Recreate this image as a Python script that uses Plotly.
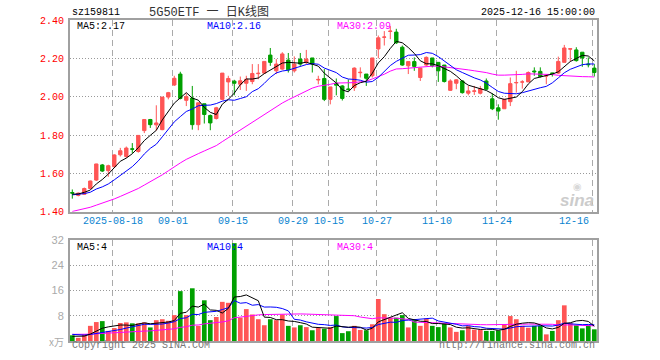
import numpy as np
import pandas as pd
import plotly.graph_objects as go

# ---------------- data ----------------
dates = ["08-07", "08-08",
         "08-11", "08-12", "08-13", "08-14", "08-15",
         "08-18", "08-19", "08-20", "08-21", "08-22",
         "08-25", "08-26", "08-27", "08-28", "08-29",
         "09-01", "09-02", "09-03", "09-04", "09-05",
         "09-08", "09-09", "09-10", "09-11", "09-12",
         "09-15", "09-16", "09-17", "09-18", "09-19",
         "09-22", "09-23", "09-24", "09-25", "09-26",
         "09-29", "09-30", "10-09", "10-10",
         "10-13", "10-14", "10-15", "10-16", "10-17",
         "10-20", "10-21", "10-22", "10-23", "10-24",
         "10-27", "10-28", "10-29", "10-30", "10-31",
         "11-03", "11-04", "11-05", "11-06", "11-07",
         "11-10", "11-11", "11-12", "11-13", "11-14",
         "11-17", "11-18", "11-19", "11-20", "11-21",
         "11-24", "11-25", "11-26", "11-27", "11-28",
         "12-01", "12-02", "12-03", "12-04", "12-05",
         "12-08", "12-09", "12-10", "12-11", "12-12",
         "12-15", "12-16"]

opens = [1.500, 1.485, 1.491, 1.521, 1.565, 1.644, 1.614, 1.635, 1.697, 1.688,
         1.728, 1.714, 1.823, 1.881, 1.853, 1.828, 1.998, 2.061, 2.118, 1.981,
         1.993, 1.854, 1.963, 1.902, 1.886, 1.986, 2.077, 2.081, 2.065, 2.070,
         2.079, 2.120, 2.123, 2.217, 2.135, 2.144, 2.191, 2.135, 2.196, 2.179,
         2.202, 2.087, 2.095, 1.986, 2.070, 2.056, 2.040, 2.047, 2.125, 2.118,
         2.109, 2.249, 2.310, 2.340, 2.337, 2.258, 2.161, 2.183, 2.100, 2.165,
         2.202, 2.179, 2.165, 2.033, 2.070, 2.082, 2.018, 2.028, 2.018, 2.082,
         1.989, 1.942, 1.937, 1.974, 2.072, 2.076, 2.077, 2.134, 2.132, 2.108,
         2.124, 2.123, 2.179, 2.248, 2.244, 2.232, 2.170, 2.149]
highs = [1.516, 1.500, 1.526, 1.562, 1.650, 1.649, 1.645, 1.700, 1.733, 1.740,
         1.758, 1.800, 1.881, 1.884, 1.955, 1.998, 2.025, 2.109, 2.130, 2.017,
         2.056, 1.968, 1.963, 1.907, 1.947, 2.123, 2.109, 2.088, 2.105, 2.109,
         2.170, 2.170, 2.184, 2.254, 2.196, 2.232, 2.228, 2.210, 2.228, 2.244,
         2.202, 2.109, 2.144, 2.051, 2.095, 2.060, 2.090, 2.153, 2.153, 2.118,
         2.202, 2.319, 2.342, 2.368, 2.354, 2.267, 2.183, 2.205, 2.149, 2.210,
         2.202, 2.179, 2.165, 2.091, 2.091, 2.086, 2.056, 2.056, 2.056, 2.095,
         2.018, 1.960, 1.989, 2.100, 2.135, 2.086, 2.132, 2.153, 2.153, 2.118,
         2.125, 2.209, 2.270, 2.253, 2.258, 2.232, 2.205, 2.170]
lows = [1.468, 1.480, 1.487, 1.520, 1.560, 1.607, 1.582, 1.630, 1.688, 1.680,
        1.705, 1.708, 1.810, 1.837, 1.823, 1.825, 1.986, 2.056, 1.986, 1.951,
        1.828, 1.825, 1.860, 1.825, 1.881, 1.982, 2.004, 2.007, 2.035, 2.030,
        2.065, 2.091, 2.118, 2.161, 2.118, 2.140, 2.126, 2.126, 2.161, 2.170,
        2.126, 2.065, 1.977, 1.960, 2.007, 1.980, 2.030, 2.030, 2.100, 2.056,
        2.100, 2.200, 2.267, 2.300, 2.275, 2.161, 2.118, 2.135, 2.082, 2.161,
        2.153, 2.077, 2.074, 2.030, 2.039, 2.016, 2.007, 2.009, 2.012, 2.035,
        1.930, 1.880, 1.937, 1.951, 2.021, 2.042, 2.077, 2.109, 2.100, 2.065,
        2.105, 2.118, 2.179, 2.183, 2.183, 2.156, 2.153, 2.105]
closes = [1.497, 1.497, 1.521, 1.560, 1.649, 1.612, 1.640, 1.696, 1.718, 1.732,
          1.726, 1.798, 1.881, 1.854, 1.863, 1.998, 2.021, 2.096, 1.991, 2.000,
          1.854, 1.968, 1.907, 1.863, 1.942, 2.123, 2.095, 2.070, 2.083, 2.091,
          2.121, 2.122, 2.184, 2.179, 2.170, 2.223, 2.140, 2.170, 2.170, 2.196,
          2.170, 2.090, 1.986, 2.051, 2.060, 1.991, 2.038, 2.149, 2.127, 2.096,
          2.202, 2.307, 2.311, 2.342, 2.281, 2.165, 2.183, 2.158, 2.149, 2.205,
          2.161, 2.135, 2.079, 2.082, 2.088, 2.021, 2.030, 2.030, 2.042, 2.039,
          1.937, 1.925, 1.986, 2.068, 2.074, 2.077, 2.126, 2.130, 2.105, 2.109,
          2.120, 2.184, 2.254, 2.250, 2.188, 2.202, 2.167, 2.126]
volumes = [1.8, 1.0, 2.1, 4.8, 6.0, 6.3, 3.2, 4.1, 5.7, 5.9,
           5.6, 5.6, 5.9, 4.3, 6.6, 6.9, 6.4, 8.2, 15.8, 8.2,
           16.7, 4.8, 12.9, 6.6, 7.6, 12.4, 12.1, 31.0, 7.4, 10.1,
           8.4, 6.9, 5.0, 6.9, 6.6, 8.4, 4.8, 4.3, 5.0, 4.4,
           3.4, 4.1, 3.9, 4.4, 7.9, 2.5, 3.1, 4.8, 3.5, 3.4,
           5.3, 13.3, 8.5, 7.4, 7.4, 8.2, 4.3, 6.6, 4.8, 7.1,
           4.8, 4.4, 5.5, 4.3, 2.9, 3.4, 4.8, 3.6, 3.6, 3.2,
           3.2, 3.3, 5.3, 7.9, 6.9, 4.8, 4.2, 4.8, 4.8, 2.1,
           3.2, 6.6, 11.3, 5.7, 5.0, 4.0, 5.0, 3.7]

# estimated history before the first visible bar (needed for the moving averages)
pre_closes = [1.30, 1.31, 1.31, 1.32, 1.32, 1.33, 1.32, 1.33, 1.34, 1.33,
              1.34, 1.35, 1.36, 1.37, 1.38, 1.40, 1.42, 1.43, 1.44, 1.46,
              1.47, 1.48, 1.49, 1.48, 1.50, 1.49, 1.48, 1.50, 1.49]
pre_volumes = [2.0, 2.2, 2.1, 1.9, 2.3, 2.0, 2.2, 2.1, 2.0, 2.2,
               2.1, 2.0, 2.3, 2.1, 1.9, 2.2, 2.0, 2.1, 2.2, 2.1,
               2.6, 2.8, 2.7, 2.9, 2.5, 1.5, 1.4, 1.5, 1.3]

tick_labels = ["2025-08-18", "09-01", "09-15", "09-29", "10-15",
               "10-27", "11-10", "11-24", "12-16"]
tick_dates = ["08-18", "09-01", "09-15", "09-29", "10-15",
              "10-27", "11-10", "11-24", "12-16"]
price_ticks = [1.40, 1.60, 1.80, 2.00, 2.20, 2.40]
vol_ticks = [8, 16, 24, 32]

# ---------------- derived ----------------
n = len(dates)
x = np.arange(n)
c_all = pd.Series(pre_closes + closes)
v_all = pd.Series(pre_volumes + volumes)
npre = len(pre_closes)
ma = {p: c_all.rolling(p).mean().iloc[npre:].values for p in (5, 10, 30)}
vma = {p: v_all.rolling(p).mean().iloc[npre:].values for p in (5, 10, 30)}

RED = "#ff5555"
GREEN = "#00a000"
ma_colors = {5: "#000000", 10: "#0000ff", 30: "#ff00ff"}

L, R, T, B = 70, 597, 20, 341
def px(v):
    return (v - L) / (R - L)
def py(v):
    return (B - v) / (B - T)

fig = go.Figure()
fig.add_trace(go.Candlestick(
    x=x, open=opens, high=highs, low=lows, close=closes,
    increasing=dict(line=dict(color=RED, width=1), fillcolor=RED),
    decreasing=dict(line=dict(color=GREEN, width=1), fillcolor=GREEN),
    whiskerwidth=0, xaxis="x", yaxis="y", showlegend=False, hoverinfo="skip"))
for p in (30, 10, 5):
    fig.add_trace(go.Scatter(x=x, y=ma[p], mode="lines",
                             line=dict(color=ma_colors[p], width=1),
                             xaxis="x", yaxis="y", showlegend=False, hoverinfo="skip"))

bar_colors = [RED if c >= o else GREEN for o, c in zip(opens, closes)]
fig.add_trace(go.Bar(x=x, y=volumes, marker=dict(color=bar_colors, line=dict(width=0)),
                     width=0.78, xaxis="x2", yaxis="y2", showlegend=False, hoverinfo="skip"))
for p in (30, 10, 5):
    fig.add_trace(go.Scatter(x=x, y=vma[p], mode="lines",
                             line=dict(color=ma_colors[p], width=1),
                             xaxis="x2", yaxis="y2", showlegend=False, hoverinfo="skip"))

tickpos = [dates.index(d) - 0.3 for d in tick_dates]
xr = [-0.383, n - 1 + 0.45]
mono = "Liberation Mono, DejaVu Sans Mono, monospace"
common_x = dict(range=xr, showgrid=True, gridcolor="#aaaaaa", griddash="6px,4px", gridwidth=1,
                zeroline=False, showline=True, mirror=True, linecolor="#a0a0a0", linewidth=2,
                tickvals=tickpos, showticklabels=False, fixedrange=True)
common_y = dict(showgrid=True, gridcolor="#999999", griddash="1px,2px", gridwidth=1,
                zeroline=False, showline=True, mirror=True, linecolor="#a0a0a0", linewidth=2,
                fixedrange=True)

fig.update_layout(
    width=660, height=360,
    margin=dict(l=L, r=660 - R, t=T, b=360 - B),
    paper_bgcolor="white", plot_bgcolor="white",
    boxgap=0.2,
    bargap=0.2,
    xaxis=dict(common_x, anchor="y", rangeslider=dict(visible=False)),
    yaxis=dict(common_y, domain=[py(211.7), 1], range=[1.40, 2.40],
               tickvals=price_ticks, ticktext=[f"{v:.2f}" for v in price_ticks],
               ticks="outside", ticklen=2, tickcolor="rgba(0,0,0,0)",
               tickfont=dict(family=mono, size=10, color="#ff0000")),
    xaxis2=dict(common_x, anchor="y2", matches="x"),
    yaxis2=dict(common_y, domain=[0, py(240)], range=[0, 32],
                tickvals=vol_ticks, ticktext=[str(v) for v in vol_ticks],
                ticks="outside", ticklen=2, tickcolor="rgba(0,0,0,0)",
                tickfont=dict(family="Liberation Sans, Arial, sans-serif", size=11, color="#aaaaaa")),
)

# date labels under the price panel (last one kept inside the plot's right edge)
for i, (lab, pos) in enumerate(zip(tick_labels, tickpos)):
    last = i == len(tick_labels) - 1
    fig.add_annotation(text=lab, x=(xr[1] - 1.0) if last else pos, xref="x",
                       y=py(221.7), yref="paper",
                       xanchor="right" if last else "center", yanchor="middle",
                       showarrow=False,
                       font=dict(family=mono, size=10, color="#0a84d0"))

def note(text, xp, yp, anchor="left", color="#000", size=10, family=mono, **kw):
    fig.add_annotation(text=text, x=px(xp), y=py(yp), xref="paper", yref="paper",
                       xanchor=anchor, yanchor="middle", showarrow=False,
                       font=dict(family=family, size=size, color=color), **kw)

note("sz159811", 70, 12)
note("5G50ETF 一 日K线图", 209, 12, anchor="center", color="#333333", size=12,
     family="Liberation Mono, Noto Sans CJK SC, monospace")
note("2025-12-16 15:00:00", 597, 12, anchor="right")
note("MA5:2.17", 75, 26)
note("MA10:2.16", 205, 26, color="#0000ff")
note("MA30:2.09", 335, 26, color="#ff00ff")
note("MA5:4", 75, 247)
note("MA10:4", 205, 247, color="#0000ff")
note("MA30:4", 335, 247, color="#ff00ff")
note("Copyright 2025 SINA.COM", 70, 346, color="#777777")
note("http://finance.sina.com.cn", 597, 346, anchor="right", color="#777777")
note("x万", 66, 341, anchor="right", color="#aaaaaa", size=10,
     family="Noto Sans CJK SC, sans-serif")
fig.add_annotation(text="sina", x=px(596), y=py(200), xref="paper", yref="paper",
                   xanchor="right", yanchor="middle", showarrow=False,
                   font=dict(family="Liberation Sans, Arial", size=17, color="#cccccc",
                             style="italic", weight="bold"))
fig.add_annotation(text="◉", x=px(577), y=py(187), xref="paper", yref="paper",
                   xanchor="center", yanchor="middle", showarrow=False,
                   font=dict(family="DejaVu Sans", size=10, color="#d8d8d8"))

fig.write_html("out.html")
